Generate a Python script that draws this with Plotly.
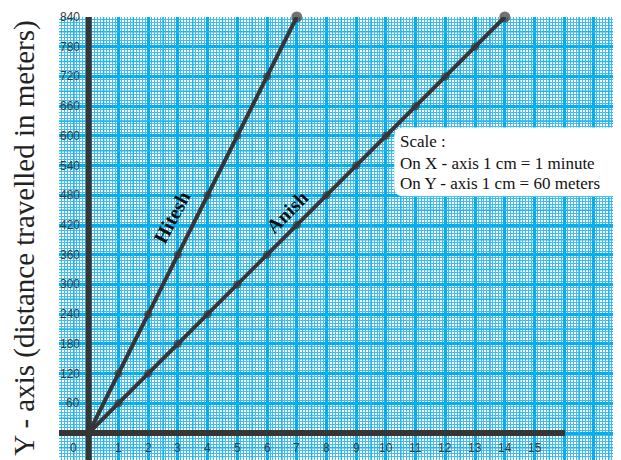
import plotly.graph_objects as go

# ---------------- data ----------------
hitesh_minutes = [0, 1, 2, 3, 4, 5, 6, 7]
hitesh_meters = [0, 120, 240, 360, 480, 600, 720, 840]
anish_minutes = [0, 1, 2, 3, 4, 5, 6, 7, 8, 9, 10, 11, 12, 13, 14]
anish_meters = [0, 60, 120, 180, 240, 300, 360, 420, 480, 540, 600, 660, 720, 780, 840]
x_tick_values = list(range(0, 16))
x_tick_labels = [str(v) for v in x_tick_values]
y_tick_values = list(range(60, 841, 60))
y_tick_labels = [str(v) for v in y_tick_values]
scale_lines = ["Scale :", "On X - axis 1 cm = 1 minute", "On Y - axis 1 cm = 60 meters"]
y_title = "Y - axis (distance travelled in meters)"

# ---------------- style ----------------
PAGE_OFFSET = 8  # browser body margin
X_RANGE = [-1.0, 17.91]
Y_RANGE = [-54.5, 840]
X_AXIS_END = 16.03
DARK = "#363636"
MAJOR = "#06aeed"
MINOR = "#3fbdf0"
MID = "#22b4ee"
SERIF = "Liberation Serif"
SANS = "Liberation Sans"

fig = go.Figure()

def marker_sizes(n):
    return [8] * (n - 1) + [11]

for xs, ys, nm in [(hitesh_minutes, hitesh_meters, "Hitesh"), (anish_minutes, anish_meters, "Anish")]:
    fig.add_trace(go.Scatter(
        x=xs, y=ys, mode="lines+markers", name=nm,
        line=dict(color=DARK, width=4),
        marker=dict(color=DARK, size=marker_sizes(len(xs)), line=dict(width=0)),
        cliponaxis=False, showlegend=False, hoverinfo="skip"))

shapes = []
# mid (half-cm) grid lines
for k in range(-1, 18):
    x = k + 0.5
    if x < X_RANGE[1]:
        shapes.append(dict(type="line", layer="between", x0=x, x1=x, y0=Y_RANGE[0], y1=Y_RANGE[1],
                           line=dict(color=MID, width=1.5)))
for k in range(-1, 14):
    y = k * 60 + 30
    shapes.append(dict(type="line", layer="between", x0=X_RANGE[0], x1=X_RANGE[1], y0=y, y1=y,
                       line=dict(color=MID, width=1.5)))

# dark axes
shapes.append(dict(type="line", layer="between", x0=X_RANGE[0], x1=X_AXIS_END, y0=0, y1=0,
                   line=dict(color=DARK, width=6)))
shapes.append(dict(type="line", layer="between", x0=0, x1=0, y0=Y_RANGE[0], y1=Y_RANGE[1],
                   line=dict(color=DARK, width=6)))

# rounded scale box
bx0, bx1, by0, by1 = 10.3, 17.88, 479, 616
rx, ry = 0.28, 16.5
path = (f"M {bx0+rx},{by0} L {bx1-rx},{by0} Q {bx1},{by0} {bx1},{by0+ry} "
        f"L {bx1},{by1-ry} Q {bx1},{by1} {bx1-rx},{by1} L {bx0+rx},{by1} "
        f"Q {bx0},{by1} {bx0},{by1-ry} L {bx0},{by0+ry} Q {bx0},{by0} {bx0+rx},{by0} Z")
shapes.append(dict(type="path", path=path, layer="above", fillcolor="white",
                   line=dict(color="white", width=1)))

annotations = []
for v, t in zip(x_tick_values, x_tick_labels):
    annotations.append(dict(x=(-0.5 if v == 0 else v), y=-30, text=t, showarrow=False,
                            xanchor="center", yanchor="middle",
                            font=dict(family=SANS, size=12, color="#3a3a3a")))
for v, t in zip(y_tick_values, y_tick_labels):
    annotations.append(dict(x=-0.22, y=v, text=t, showarrow=False,
                            xanchor="right", yanchor="middle",
                            font=dict(family=SANS, size=12, color="#3a3a3a")))

annotations.append(dict(x=2.8, y=436, text="<b>Hitesh</b>", textangle=-62, showarrow=False,
                        font=dict(family=SERIF, size=20, color="#111")))
annotations.append(dict(x=6.67, y=446, text="<b>Anish</b>", textangle=-45, showarrow=False,
                        font=dict(family=SERIF, size=20, color="#111")))

for line, yy in zip(scale_lines, [588, 545, 503]):
    annotations.append(dict(x=10.42, y=yy, text=line, showarrow=False, xanchor="left",
                            yanchor="middle", font=dict(family=SERIF, size=17, color="#111")))

annotations.append(dict(xref="paper", yref="paper", x=-0.062, y=0.5, text=y_title,
                        textangle=-90, showarrow=False, xanchor="center", yanchor="middle",
                        font=dict(family=SERIF, size=29, color="#222")))

fig.update_layout(
    width=621 - PAGE_OFFSET, height=460 - PAGE_OFFSET,
    margin=dict(l=59 - PAGE_OFFSET, r=0, t=17 - PAGE_OFFSET, b=0),
    paper_bgcolor="white", plot_bgcolor="white",
    shapes=shapes, annotations=annotations,
    xaxis=dict(range=X_RANGE, showticklabels=False, ticks="", zeroline=False,
               showgrid=True, tick0=0, dtick=1, gridcolor=MAJOR, gridwidth=3,
               minor=dict(tick0=0, dtick=0.1, showgrid=True, gridcolor=MINOR, gridwidth=1),
               showline=False, fixedrange=True),
    yaxis=dict(range=Y_RANGE, showticklabels=False, ticks="", zeroline=False,
               showgrid=True, tick0=0, dtick=60, gridcolor=MAJOR, gridwidth=3,
               minor=dict(tick0=0, dtick=6, showgrid=True, gridcolor=MINOR, gridwidth=1),
               showline=False, fixedrange=True),
)

fig.write_html("out.html")
